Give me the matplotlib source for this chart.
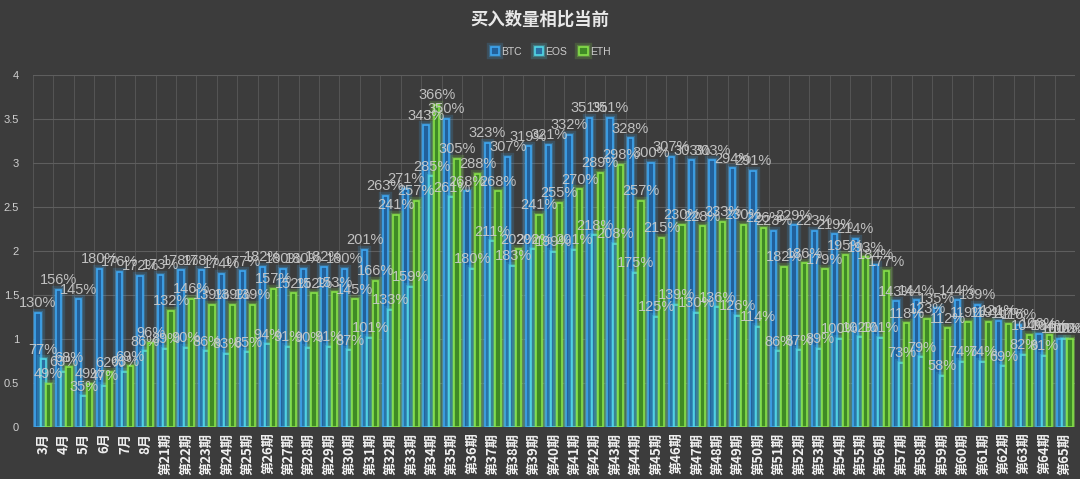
import matplotlib
matplotlib.use("Agg")
import matplotlib.pyplot as plt
import matplotlib.patheffects as pe
import numpy as np

categories = ['3月', '4月', '5月', '6月', '7月', '8月',
              '第21期', '第22期', '第23期', '第24期', '第25期', '第26期', '第27期', '第28期', '第29期', '第30期',
              '第31期', '第32期', '第33期', '第34期', '第35期', '第36期', '第37期', '第38期', '第39期', '第40期',
              '第41期', '第42期', '第43期', '第44期', '第45期', '第46期', '第47期', '第48期', '第49期', '第50期',
              '第51期', '第52期', '第53期', '第54期', '第55期', '第56期', '第57期', '第58期', '第59期', '第60期',
              '第61期', '第62期', '第63期', '第64期', '第65期']

btc = [130, 156, 145, 180, 176, 172,
       173, 178, 178, 174, 177, 182, 180, 180, 182, 180,
       201, 263, 271, 343, 350, 268, 323, 307, 319, 321,
       332, 351, 351, 328, 300, 307, 303, 303, 294, 291,
       223, 229, 223, 219, 214, 184, 143, 144, 135, 144,
       139, 121, 116, 106, 100]
eos = [77, 63, 35, 47, 63, 86,
       89, 90, 86, 83, 85, 94, 91, 90, 91, 87,
       101, 133, 159, 285, 261, 180, 211, 183, 202, 199,
       201, 218, 208, 175, 125, 139, 130, 136, 126, 114,
       86, 87, 89, 100, 102, 101, 73, 79, 58, 74,
       74, 69, 82, 81, 100]
eth = [49, 68, 49, 62, 69, 96,
       132, 146, 139, 139, 139, 157, 152, 152, 153, 145,
       166, 241, 257, 366, 305, 288, 268, 202, 241, 255,
       270, 289, 298, 257, 215, 230, 228, 233, 230, 226,
       182, 186, 179, 195, 193, 177, 118, 123, 112, 119,
       119, 117, 104, 104, 100]

series_names = ['BTC', 'EOS', 'ETH']
title = '买入数量相比当前'

BG = '#3c3c3c'
plt.rcParams['font.family'] = ['Liberation Sans', 'Noto Sans CJK SC', 'DejaVu Sans']

fig = plt.figure(figsize=(10.8, 4.79), dpi=100, facecolor=BG)
ax = fig.add_axes([33 / 1080, 52 / 479, 1042 / 1080, 352 / 479])
ax.set_facecolor(BG)

x = np.arange(len(categories))
w = 0.26
styles = [
    dict(face='#22609a', edge='#3ea6f0'),
    dict(face='#2a6ea2', edge='#52d6e6'),
    dict(face='#3f8a26', edge='#86e04a'),
]
data = [btc, eos, eth]
offsets = [-w, 0, w]
for vals, st, off, name in zip(data, styles, offsets, series_names):
    v = np.array(vals) / 100.0
    bars = ax.bar(x + off, v, width=w, color=st['face'], edgecolor=st['edge'],
                  linewidth=1.2, label=name, zorder=3)
    for b in bars:
        b.set_path_effects([pe.Stroke(linewidth=6, foreground=st['edge'], alpha=0.18),
                            pe.Stroke(linewidth=3, foreground=st['edge'], alpha=0.3),
                            pe.Normal()])
    for xi, vi, raw in zip(x + off, v, vals):
        ax.text(xi, vi + 0.03, f'{raw}%', ha='center', va='bottom', fontsize=10.5,
                color='#cccccc', alpha=0.92, zorder=5)

ax.set_xlim(-0.5, len(categories) - 0.5)
ax.set_ylim(0, 4)
ax.set_yticks(np.arange(0, 4.01, 0.5))
ax.set_yticklabels(['0', '0.5', '1', '1.5', '2', '2.5', '3', '3.5', '4'])
ax.set_xticks(x)
ax.set_xticklabels(categories, rotation=90, fontsize=9.5, fontweight='bold', color='#f0f0f0',
                   family=['Noto Sans CJK SC', 'DejaVu Sans'])
ax.set_xticks(np.arange(-0.5, len(categories), 1), minor=True)
ax.tick_params(axis='x', which='both', length=0, pad=4)
ax.tick_params(axis='y', length=0, labelsize=8, colors='#cfcfcf', pad=10)
ax.grid(axis='y', color='#5e5e5e', linewidth=0.8, zorder=0)
ax.grid(axis='x', which='minor', color='#555555', linewidth=0.7, zorder=0)
ax.grid(axis='x', which='major', visible=False)
for s in ax.spines.values():
    s.set_visible(False)

fig.text(0.5, 1 - 20 / 479, title, ha='center', va='center', fontsize=12.5, fontweight='bold',
         color='#e8e8e8', family=['Noto Sans CJK SC', 'DejaVu Sans'])

leg = fig.legend(loc='center', bbox_to_anchor=(0.51, 1 - 52 / 479), ncol=3, frameon=False,
                 fontsize=7.5, handlelength=0.8, handleheight=0.8, handletextpad=0.2,
                 columnspacing=1.2, labelcolor='#cccccc')

fig.savefig('out.png', dpi=100, facecolor=BG)
